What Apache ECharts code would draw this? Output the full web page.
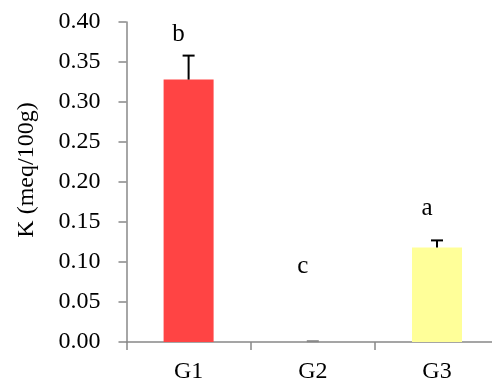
<!DOCTYPE html>
<html>
<head>
<meta charset="utf-8">
<script src="https://cdn.jsdelivr.net/npm/echarts@6/dist/echarts.min.js"></script>
<style>
  html, body { margin: 0; padding: 0; background: #fff; }
  #chart { width: 492px; height: 390px; }
</style>
</head>
<body>
<div id="chart"></div>
<script>
// Potassium content per group, with standard error and significance letters
const groups = ['G1', 'G2', 'G3'];
const kValues = [0.328, 0.0, 0.118];
const kErrors = [0.030, 0.001, 0.009];
const sigLetters = ['b', 'c', 'a'];
const letterLevels = [0.384, 0.095, 0.1675];
const barColors = ['#FF4444', '#FFFFFF', '#FFFF99'];
const yTicks = { min: 0, max: 0.40, step: 0.05 };

const FONT = '"Liberation Serif", "Times New Roman", serif';
const AXIS_GREY = '#888888';

const chart = echarts.init(document.getElementById('chart'));

chart.setOption({
  animation: false,
  backgroundColor: '#ffffff',
  grid: {
    left: 126.5, width: 372.6, top: 22, bottom: 48,
    containLabel: false, outerBoundsMode: 'none'
  },
  xAxis: {
    type: 'category',
    data: groups,
    axisLine: { lineStyle: { color: AXIS_GREY, width: 1.5 } },
    axisTick: { show: true, length: 8, lineStyle: { color: AXIS_GREY, width: 1.5 } },
    axisLabel: { color: '#000', fontFamily: FONT, fontSize: 24, margin: 18 }
  },
  yAxis: {
    type: 'value',
    min: yTicks.min,
    max: yTicks.max,
    interval: yTicks.step,
    splitLine: { show: false },
    axisLine: { show: true, lineStyle: { color: AXIS_GREY, width: 1.5 } },
    axisTick: { show: true, length: 8, lineStyle: { color: AXIS_GREY, width: 1.5 } },
    axisLabel: {
      color: '#000', fontFamily: FONT, fontSize: 24, margin: 26,
      formatter: v => v.toFixed(2)
    }
  },
  graphic: [{
    type: 'text',
    x: 27,
    y: 170,
    rotation: Math.PI / 2,
    style: {
      text: 'K (meq/100g)',
      font: '24px ' + FONT,
      fill: '#000',
      align: 'center',
      verticalAlign: 'middle'
    }
  }],
  series: [
    {
      type: 'bar',
      barWidth: 50,
      data: kValues.map((v, i) => ({ value: v, itemStyle: { color: barColors[i] } })),
      z: 2
    },
    {
      // upper error whiskers with caps
      type: 'custom',
      data: kValues.map((v, i) => [i, v, kErrors[i]]),
      renderItem: (params, api) => {
        const i = api.value(0);
        const v = api.value(1);
        const e = api.value(2);
        const base = api.coord([i, v]);
        const top = api.coord([i, v + e]);
        const half = 6;
        const col = e < 0.002 ? AXIS_GREY : '#000';
        return {
          type: 'group',
          children: [
            { type: 'line', shape: { x1: base[0], y1: base[1], x2: top[0], y2: top[1] },
              style: { stroke: col, lineWidth: 2 } },
            { type: 'line', shape: { x1: top[0] - half, y1: top[1], x2: top[0] + half, y2: top[1] },
              style: { stroke: col, lineWidth: 2 } }
          ]
        };
      },
      z: 3
    },
    {
      // significance letters
      type: 'custom',
      data: letterLevels.map((y, i) => [i, y]),
      renderItem: (params, api) => {
        const p = api.coord([api.value(0), api.value(1)]);
        return {
          type: 'text',
          x: p[0] - 10,
          y: p[1],
          style: {
            text: sigLetters[params.dataIndex],
            font: '25px ' + FONT,
            fill: '#000',
            align: 'center',
            verticalAlign: 'middle'
          }
        };
      },
      z: 4
    }
  ]
});
</script>
</body>
</html>
